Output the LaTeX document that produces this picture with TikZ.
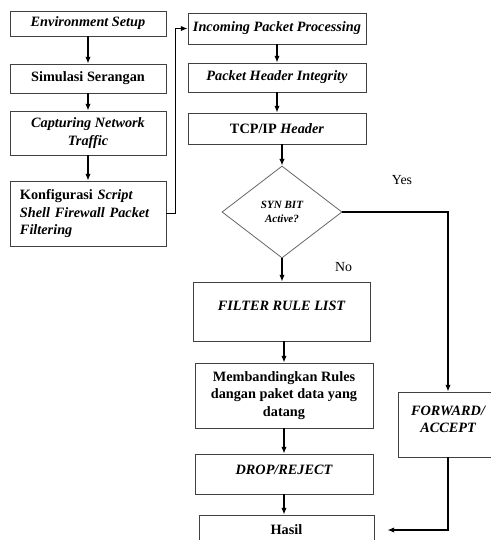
\documentclass[tikz,border=0pt]{standalone}
\usepackage{fontspec}
\setmainfont{Liberation Serif}
\usetikzlibrary{arrows.meta,positioning,shapes.geometric}

\begin{document}
\begin{tikzpicture}[
  x=0.75pt, y=-0.75pt,
  font=\fontsize{10.7}{13}\selectfont\bfseries,
  >={Latex[length=5pt,width=4pt]},
  box/.style={draw=black!75, line width=0.7pt, minimum width=117pt, align=center, inner sep=2pt},
  wbox/.style={box, minimum width=133.5pt},
  it/.style={font=\fontsize{10.7}{13}\selectfont\bfseries\itshape},
  decision/.style={draw=black!60, line width=0.6pt, diamond, minimum width=90pt, minimum height=69pt, inner sep=0pt, align=center, font=\fontsize{8.3}{10.5}\selectfont\bfseries\itshape},
  flow/.style={->, line width=0.9pt},
  lbl/.style={font=\fontsize{10.4}{12}\selectfont}
]
\useasboundingbox (0,0) rectangle (491,540);

% left column
\node[box, it, minimum height=18.75pt] (env) at (88,23.5) {Environment Setup};
\node[box, minimum height=21.75pt] (sim) at (88,78.5) {Simulasi Serangan};
\node[box, it, minimum height=33pt] (cap) at (88,133) {Capturing Network\\Traffic};
\node[box, align=left, text width=102pt, inner xsep=7.5pt, minimum height=48.75pt] (konf) at (88,213.5)
  {Konfigurasi \textit{Script}\\\textit{Shell Firewall Packet}\\\textit{Filtering}};

% right column
\node[wbox, it, minimum height=23.25pt] (inc) at (277,28.5) {Incoming Packet Processing};
\node[wbox, it, minimum height=21.75pt] (phi) at (277,77.5) {Packet Header Integrity};
\node[wbox, minimum height=23.25pt] (tcp) at (277,128.5) {TCP/IP \textit{Header}};
\node[decision] (dia) at (282,212) {SYN BIT\\Active?};
\node[wbox, it, minimum width=132.75pt, minimum height=44.25pt, text height=7.5pt, text depth=8.7pt] (filter) at (281.5,311.5) {FILTER RULE LIST};
\node[wbox, minimum height=48.75pt] (memb) at (284,395.5) {Membandingkan Rules\\dangan paket data yang\\datang};
\node[wbox, it, minimum height=30pt, text height=7.5pt, text depth=6.5pt] (drop) at (284,474) {DROP/REJECT};
\node[wbox, minimum width=131.25pt, minimum height=22.5pt] (hasil) at (286.5,530) {Hasil};
\node[box, it, minimum width=75pt, minimum height=48.75pt, text height=20.5pt, text depth=8pt] (fwd) at (448,424.5) {FORWARD/\\ACCEPT};

\node[lbl] (yes) at (402,180) {Yes};
\node[lbl] (no) at (343.5,267) {No};

% connectors
\draw[flow] (env) -- (sim);
\draw[flow] (sim) -- (cap);
\draw[flow] (cap) -- (konf);
\draw[flow] (konf.east) -- ++(9,0) |- (inc.west);
\draw[flow] (inc) -- (phi);
\draw[flow] (phi) -- (tcp);
\draw[flow] (dia.north |- tcp.south) -- (dia.north);
\draw[flow] (dia.south) -- (dia.south |- filter.north);
\draw[flow] (memb.north |- filter.south) -- (memb.north);
\draw[flow] (memb) -- (drop);
\draw[flow] (drop.south) -- (drop.south |- hasil.north);
\draw[flow] (dia.east) -| (fwd.north);
\draw[flow, shorten >=9.75pt] (fwd.south) |- (hasil.east);

\end{tikzpicture}
\end{document}
